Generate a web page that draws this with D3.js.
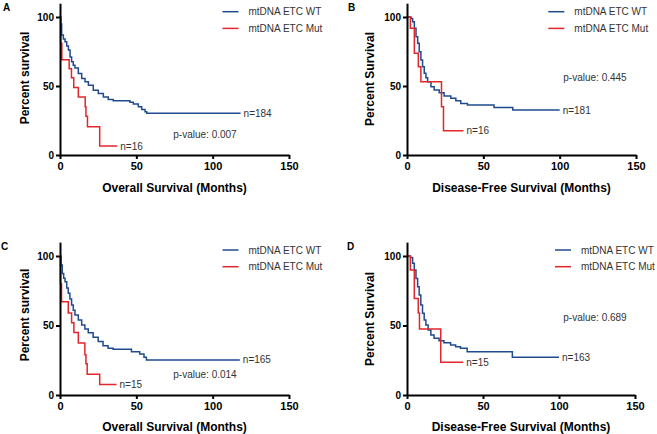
<!DOCTYPE html>
<html>
<head>
<meta charset="utf-8">
<script src="https://cdn.jsdelivr.net/npm/d3@7"></script>
<style>
body { margin:0; background:#fff; }
text { font-family: "Liberation Sans", Arial, sans-serif; }
</style>
</head>
<body>
<svg id="chart" width="657" height="434"></svg>
<script>
// survival curves: [month, percent surviving from that month on]
var wtA = [[0,100],[0.5,95],[1.1,87],[2.2,84],[3.3,82],[4.4,79],[5.5,76],[6.6,71],[7.6,67.5],[8.7,65],[9.8,63],[12,59],[14.2,55.5],[16.4,53],[18.6,50.5],[21.8,47],[25.1,44.5],[28.4,42],[31.6,40.3],[34.9,39.4],[43.7,39.4],[45.8,38.2],[48,37],[51.3,35],[53.5,33],[55.7,31.4],[56.8,30.2],[118.3,30.2]];
var mutA = [[0,100],[0.4,81],[1.2,69],[6,62.5],[7.5,56],[9,49],[12,42],[16.5,35],[17,28],[18,20.5],[26,6.5],[37.5,6.5]];

var wtB = [[0,100],[2.6,99],[3.7,96.6],[4.8,91.8],[5.9,85.7],[7,80.9],[8,74.9],[9.1,68.8],[10.2,64],[11.3,59.2],[12.4,56],[13.5,53.1],[15.7,49.5],[17.8,47.1],[21.1,45.1],[24.3,42.8],[28.7,41.1],[32,39.4],[35.2,37.4],[39.6,36.2],[57,34.5],[69.3,32.6],[100,32.6]];
var mutB = [[0,100],[2.2,91.8],[4.8,73.7],[7.4,64],[9.1,53.1],[22.6,35],[23.9,17.6],[37,17.6]];

var wtC = [[0,100],[0.65,93.5],[1.5,87.5],[2.4,84],[3.3,81.5],[4.4,77],[5.4,73.2],[6.5,69],[7.6,64.7],[8.7,61],[9.8,57.6],[12,54],[14.2,50.4],[16.3,47.5],[18.5,44.8],[21.7,41.5],[25,38.4],[28.2,35.5],[31.5,33.6],[34.8,32.9],[44.6,32.9],[46.8,31.2],[52.2,29.5],[55,27.1],[56.6,25.2],[117.8,25.2]];
var mutC = [[0,100],[0.3,80],[1,67],[5.4,59],[7.6,52],[9.1,45],[12,37.5],[16.3,29],[17,22.5],[17.8,15],[26,7.5],[37,7.5]];

var wtD = [[0,100],[2.2,99],[3.7,94.7],[4.8,90],[5.9,83.9],[7,77.9],[8,71.9],[9.1,64.7],[10.2,58.8],[11.3,54],[12.4,50.4],[13.9,46.8],[15.7,43.2],[17.8,40.8],[21.1,39.1],[24.3,37.6],[28.7,36],[32,34.8],[35.2,33.6],[39.6,31.2],[69.3,27.1],[100,27.1]];
var mutD = [[0,100],[2.2,90],[4.8,69.5],[7.4,59],[8.2,47.5],[22.2,23.5],[37,23.5]];

var xTicks = [0, 50, 100, 150];
var yTicks = [0, 50, 100];
var legendLabels = ["mtDNA ETC WT", "mtDNA ETC Mut"];

var blue = "#1f4b8e", red = "#e3262b", grey = "#333";

var panels = [
  {letter:"A", wt:wtA, mut:mutA, nWt:"n=184", nMut:"n=16", p:"p-value: 0.007", xTitle:"Overall Survival (Months)", yTitle:"Percent survival",
   x0:60, x1:289, y0:155, y100:17, lx:3, ly:11, legX:222.5, legY:11.7, pX:173.3, pY:137.5, ytX:29, ytY:78, xtY:191.5},
  {letter:"B", wt:wtB, mut:mutB, nWt:"n=181", nMut:"n=16", p:"p-value: 0.445", xTitle:"Disease-Free Survival (Months)", yTitle:"Percent Survival",
   x0:407, x1:636, y0:155, y100:17, lx:348, ly:11, legX:548.3, legY:11.7, pX:563.3, pY:80.5, ytX:374, ytY:79, xtY:191.5},
  {letter:"C", wt:wtC, mut:mutC, nWt:"n=165", nMut:"n=15", p:"p-value: 0.014", xTitle:"Overall Survival (Months)", yTitle:"Percent survival",
   x0:60, x1:289, y0:395, y100:256, lx:1, ly:249.5, legX:222.5, legY:250, pX:173.3, pY:378, ytX:29, ytY:315, xtY:430.5},
  {letter:"D", wt:wtD, mut:mutD, nWt:"n=163", nMut:"n=15", p:"p-value: 0.689", xTitle:"Disease-Free Survival (Months)", yTitle:"Percent Survival",
   x0:407, x1:635, y0:395, y100:256, lx:347, ly:249.5, legX:555, legY:250, pX:563.3, pY:320.5, ytX:374, ytY:319, xtY:430.5}
];

var svg = d3.select("#chart");

panels.forEach(function(p) {
  var x = d3.scaleLinear().domain([0, 150]).range([p.x0, p.x1]);
  var y = d3.scaleLinear().domain([0, 100]).range([p.y0, p.y100]);
  var g = svg.append("g");

  var line = d3.line()
    .x(function(d) { return x(d[0]); })
    .y(function(d) { return y(d[1]); })
    .curve(d3.curveStepAfter);

  g.append("path").datum(p.wt)
    .attr("fill", "none").attr("stroke", blue).attr("stroke-width", 1.5)
    .attr("d", line);
  g.append("path").datum(p.mut)
    .attr("fill", "none").attr("stroke", red).attr("stroke-width", 1.5)
    .attr("d", line);

  // axes
  var xAxis = g.append("g")
    .attr("transform", "translate(0," + p.y0 + ")")
    .call(d3.axisBottom(x).tickValues(xTicks).tickSize(4).tickSizeOuter(0).tickPadding(3));
  var yAxis = g.append("g")
    .attr("transform", "translate(" + p.x0 + ",0)")
    .call(d3.axisLeft(y.copy().domain([0, 110]).range([p.y0, y(110)])).tickValues(yTicks).tickSize(4).tickSizeOuter(0).tickPadding(2));
  [xAxis, yAxis].forEach(function(a) {
    a.select(".domain").attr("stroke", "#000").attr("stroke-width", 2);
    a.selectAll(".tick line").attr("stroke", "#000").attr("stroke-width", 2);
    a.selectAll(".tick text").attr("fill", "#000").attr("font-weight", "bold")
      .style("font-family", "'Liberation Sans', Arial, sans-serif");
  });
  xAxis.selectAll(".tick text").attr("font-size", 11);
  yAxis.selectAll(".tick text").attr("font-size", 10);

  // titles
  g.append("text")
    .attr("x", (p.x0 + p.x1) / 2).attr("y", p.xtY)
    .attr("text-anchor", "middle").attr("font-weight", "bold").attr("font-size", 12)
    .text(p.xTitle);
  g.append("text")
    .attr("transform", "translate(" + p.ytX + "," + p.ytY + ") rotate(-90)")
    .attr("text-anchor", "middle").attr("font-weight", "bold").attr("font-size", 12)
    .text(p.yTitle);
  g.append("text")
    .attr("x", p.lx).attr("y", p.ly)
    .attr("font-weight", "bold").attr("font-size", 10)
    .text(p.letter);

  // legend
  [blue, red].forEach(function(c, i) {
    var ly = p.legY + i * 16.7;
    g.append("line")
      .attr("x1", p.legX).attr("x2", p.legX + 16)
      .attr("y1", ly).attr("y2", ly)
      .attr("stroke", c).attr("stroke-width", 1.5);
    g.append("text")
      .attr("x", p.legX + 26).attr("y", ly + 3.5)
      .attr("font-size", 10).attr("fill", grey)
      .text(legendLabels[i]);
  });

  // p-value and n labels
  g.append("text")
    .attr("x", p.pX).attr("y", p.pY)
    .attr("font-size", 10).attr("fill", grey)
    .text(p.p);
  var endW = p.wt[p.wt.length - 1], endM = p.mut[p.mut.length - 1];
  g.append("text")
    .attr("x", x(endW[0]) + 3).attr("y", y(endW[1]) + 3.5)
    .attr("font-size", 10).attr("fill", grey)
    .text(p.nWt);
  g.append("text")
    .attr("x", x(endM[0]) + 3).attr("y", y(endM[1]) + 3.5)
    .attr("font-size", 10).attr("fill", grey)
    .text(p.nMut);
});
</script>
</body>
</html>
